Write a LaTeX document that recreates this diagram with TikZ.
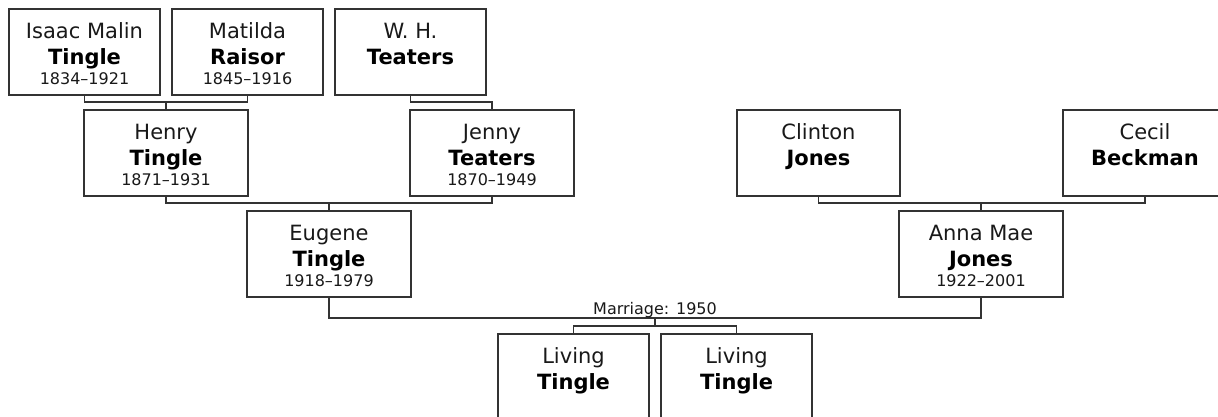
\documentclass[tikz,border=0pt]{standalone}
\usepackage{fontspec}
\setmainfont{DejaVu Sans}
\usetikzlibrary{calc}
\tikzset{
  pbox/.style={draw=black!80, line width=1.4pt, fill=white, rectangle, inner sep=0pt, outer sep=0pt, anchor=north west},
  fname/.style={font=\fontsize{21}{24}\selectfont, inner sep=0pt, anchor=base, text=black!90},
  lname/.style={font=\fontsize{21}{24}\selectfont\bfseries, inner sep=0pt, anchor=base, text=black},
  dname/.style={font=\fontsize{16}{18}\selectfont, inner sep=0pt, anchor=base, text=black!90},
  mlabel/.style={font=\fontsize{16}{18}\selectfont, inner sep=0pt, anchor=base, text=black!90},
  conn/.style={draw=black!80, line width=1.4pt}
}
\newcommand\pnames[3]{%
  \node[fname] (#1-f) at ([yshift=-29pt]#1.north) {#2};
  \node[lname] (#1-l) at ([yshift=-55pt]#1.north) {#3};
}
\newcommand\pdates[2]{%
  \node[dname] (#1-d) at ([yshift=-75pt]#1.north) {#2};
}
\begin{document}
\begin{tikzpicture}[x=1pt,y=-1pt]
\useasboundingbox (0,0) rectangle (1218,416);
% generation 3
\node[pbox, minimum width=151pt, minimum height=86pt] (isaac) at (9,9) {};
\node[pbox, minimum width=151pt, minimum height=86pt] (matilda) at (172,9) {};
\node[pbox, minimum width=151pt, minimum height=86pt] (wh) at (335,9) {};
% generation 2
\node[pbox, minimum width=164pt, minimum height=86pt] (henry) at (84,110) {};
\node[pbox, minimum width=164pt, minimum height=86pt] (jenny) at (410,110) {};
\node[pbox, minimum width=163pt, minimum height=86pt] (clinton) at (737,110) {};
\node[pbox, minimum width=164pt, minimum height=86pt] (cecil) at (1063,110) {};
% generation 1
\node[pbox, minimum width=164pt, minimum height=86pt] (eugene) at (247,211) {};
\node[pbox, minimum width=164pt, minimum height=86pt] (anna) at (899,211) {};
% generation 0
\node[pbox, minimum width=151pt, minimum height=90pt] (liv1) at (498,334) {};
\node[pbox, minimum width=151pt, minimum height=90pt] (liv2) at (661,334) {};

% texts
\pnames{isaac}{Isaac Malin}{Tingle}\pdates{isaac}{1834–1921}
\pnames{matilda}{Matilda}{Raisor}\pdates{matilda}{1845–1916}
\pnames{wh}{W. H.}{Teaters}
\pnames{henry}{Henry}{Tingle}\pdates{henry}{1871–1931}
\pnames{jenny}{Jenny}{Teaters}\pdates{jenny}{1870–1949}
\pnames{clinton}{Clinton}{Jones}
\pnames{cecil}{Cecil}{Beckman}
\pnames{eugene}{Eugene}{Tingle}\pdates{eugene}{1918–1979}
\pnames{anna}{Anna Mae}{Jones}\pdates{anna}{1922–2001}
\pnames{liv1}{Living}{Tingle}
\pnames{liv2}{Living}{Tingle}

% connectors
\draw[conn] (isaac.south) -- ++(0,7) -| (matilda.south);
\draw[conn] (henry.north) -- ++(0,-8);
\draw[conn] (wh.south) -- ++(0,7) -| (jenny.north);
\draw[conn] (henry.south) -- ++(0,7) -| (jenny.south);
\draw[conn] (eugene.north) -- ++(0,-8);
\draw[conn] (clinton.south) -- ++(0,7) -| (cecil.south);
\draw[conn] (anna.north) -- ++(0,-8);
% marriage
\draw[conn] (eugene.south) -- ++(0,21) coordinate (ml) -| (anna.south);
\coordinate (mr) at (anna.south |- ml);
\coordinate (mm) at ($(ml)!0.5!(mr)$);
\node[mlabel] (mlab) at ([yshift=4pt]mm) {Marriage: 1950};
\draw[conn] (mm) -- ++(0,8) coordinate (cj);
\draw[conn] (liv1.north) -- ++(0,-8) -| (liv2.north);
\end{tikzpicture}
\end{document}
